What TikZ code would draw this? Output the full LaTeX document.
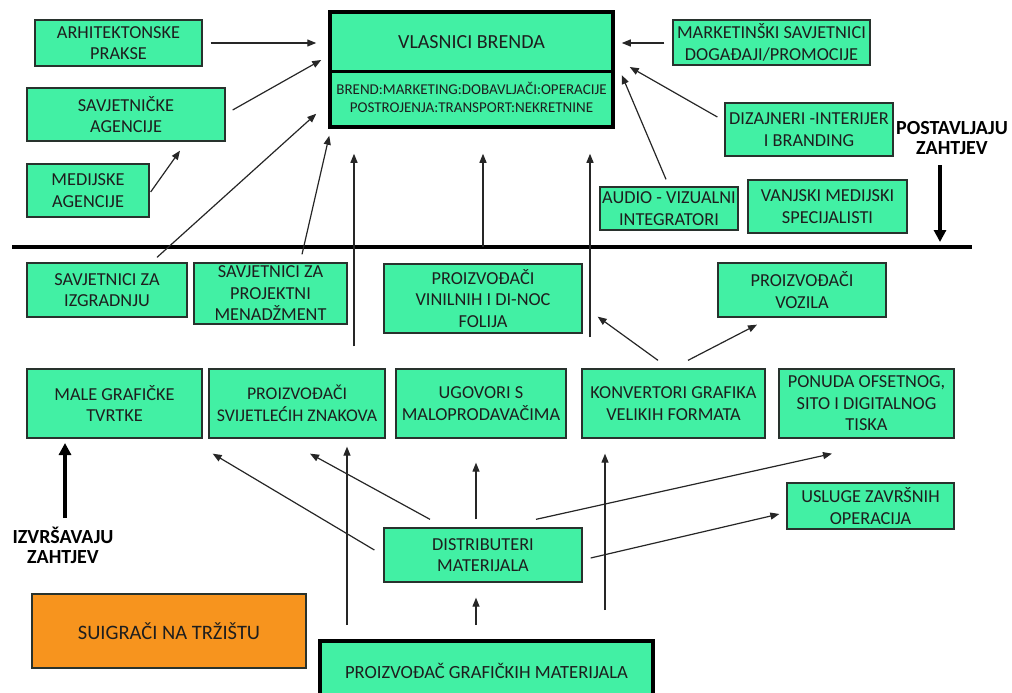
\documentclass[tikz,border=0pt]{standalone}
\usepackage{fontspec}
\setmainfont{Carlito}
\usetikzlibrary{arrows.meta,calc}
\definecolor{gfill}{RGB}{66,240,164}
\definecolor{ofill}{RGB}{247,148,30}
\definecolor{bord}{RGB}{40,50,45}
\definecolor{txt}{RGB}{30,30,30}
\begin{document}
\begin{tikzpicture}[x=1pt,y=-1pt,
 gbox/.style={draw=bord, line width=1.3pt, fill=gfill, inner sep=0pt, align=center, font=\fontsize{18.3}{21.5}\selectfont, text=txt},
 arr/.style={-{Triangle[length=9pt,width=7pt]}, line width=1.2pt, draw=black!85},
 tarr/.style={-{Triangle[length=12pt,width=12pt]}, line width=3.5pt},
 lbl/.style={font=\bfseries\fontsize{20}{20}\selectfont, align=center, inner sep=0pt}]
\useasboundingbox (0,0) rectangle (1012,693);

% top region
\node[gbox, minimum width=167pt, minimum height=46pt] (arh) at (118.5,43) {ARHITEKTONSKE\\PRAKSE};
\node[gbox, minimum width=198pt, minimum height=53pt] (sav) at (126,114.5) {SAVJETNIČKE\\AGENCIJE};
\node[gbox, minimum width=122pt, minimum height=53pt] (med) at (88,190.5) {MEDIJSKE\\AGENCIJE};
\node[gbox, line width=3.5pt, draw=black, minimum width=283pt, minimum height=115pt] (vb) at (471.5,69.5) {};
\draw[line width=3pt] ($(vb.west)+(0,2.5)$) -- ($(vb.east)+(0,2.5)$);
\node[font=\fontsize{20}{24}\selectfont, text=txt] (vbt) at (471.5,42) {VLASNICI BRENDA};
\node[font=\fontsize{15}{18}\selectfont, align=center, text=txt, inner sep=0pt] (vbs) at (471.5,97) {BREND:MARKETING:DOBAVLJAČI:OPERACIJE\\POSTROJENJA:TRANSPORT:NEKRETNINE};
\node[gbox, minimum width=197pt, minimum height=45pt] (mark) at (771.5,42.5) {MARKETINŠKI SAVJETNICI\\DOGAĐAJI/PROMOCIJE};
\node[gbox, minimum width=168pt, minimum height=53pt] (diz) at (809,129.5) {DIZAJNERI -INTERIJER\\I BRANDING};
\node[gbox, minimum width=138pt, minimum height=43pt] (audio) at (669,208.5) {AUDIO - VIZUALNI\\INTEGRATORI};
\node[gbox, minimum width=159pt, minimum height=53pt] (vanj) at (827.5,206.5) {VANJSKI MEDIJSKI\\SPECIJALISTI};
\node[lbl] (post) at (952,138) {POSTAVLJAJU\\ZAHTJEV};

% divider line
\coordinate (hl1) at (12,247);
\coordinate (hl2) at (972,247);
\draw[line width=4pt] (hl1) -- (hl2);

% middle rows
\node[gbox, minimum width=160pt, minimum height=54pt] (izg) at (107,290) {SAVJETNICI ZA\\IZGRADNJU};
\node[gbox, minimum width=153pt, minimum height=61pt] (proj) at (270.5,293.5) {SAVJETNICI ZA\\PROJEKTNI\\MENADŽMENT};
\node[gbox, minimum width=198pt, minimum height=69pt] (vin) at (483,298.5) {PROIZVOĐAČI\\VINILNIH I DI-NOC\\FOLIJA};
\node[gbox, minimum width=168pt, minimum height=54pt] (voz) at (802,290) {PROIZVOĐAČI\\VOZILA};

\node[gbox, minimum width=175pt, minimum height=69pt] (male) at (114.5,403.5) {MALE GRAFIČKE\\TVRTKE};
\node[gbox, minimum width=176pt, minimum height=69pt, font=\fontsize{17.8}{21.5}\selectfont] (svj) at (297,403.5) {PROIZVOĐAČI\\SVIJETLEĆIH ZNAKOVA};
\node[gbox, minimum width=170pt, minimum height=69pt] (ugov) at (481,403.5) {UGOVORI S\\MALOPRODAVAČIMA};
\node[gbox, minimum width=183pt, minimum height=69pt] (konv) at (673.5,403.5) {KONVERTORI GRAFIKA\\VELIKIH FORMATA};
\node[gbox, minimum width=175pt, minimum height=69pt] (pon) at (866.5,403.5) {PONUDA OFSETNOG,\\SITO I DIGITALNOG\\TISKA};

% bottom
\node[gbox, minimum width=198pt, minimum height=54pt] (dist) at (483,555) {DISTRIBUTERI\\MATERIJALA};
\node[gbox, minimum width=167pt, minimum height=46pt] (usl) at (870.5,506) {USLUGE ZAVRŠNIH\\OPERACIJA};
\node[gbox, fill=ofill, minimum width=274pt, minimum height=74pt, font=\fontsize{20.5}{24}\selectfont] (suig) at (169,631) {SUIGRAČI NA TRŽIŠTU};
\node[gbox, draw=black, line width=4pt, minimum width=333pt, minimum height=59pt, font=\fontsize{18.6}{22}\selectfont] (pgm) at (486.5,670.5) {PROIZVOĐAČ GRAFIČKIH MATERIJALA};
\node[lbl] (izv) at (63,545) {IZVRŠAVAJU\\ZAHTJEV};

% thick arrows
\coordinate (pA) at (940,165);
\coordinate (pB) at (940,242);
\draw[tarr] (pA) -- (pB);
\coordinate (iA) at (65,518);
\coordinate (iB) at (65,443);
\draw[tarr] (iA) -- (iB);

% arrows to VLASNICI BRENDA
\draw[arr] ($(arh.east)+(8,0)$) -- ($(vb.west)+(-12,-26.5)$);
\draw[arr] ($(sav.east)+(7,-4.5)$) -- ($(vb.west)+(-7,-9.5)$);
\draw[arr] ($(med.east)+(1,1.5)$) -- ($(sav.south)+(54,9)$);
\draw[arr] ($(izg.north)+(50,-5)$) -- ($(vb.south west)+(-12,-15)$);
\draw[arr] ($(proj.north)+(31.5,-8)$) -- ($(vb.south west)+(1,7)$);
\draw[arr] ($(svj.north)+(57,-22)$) -- ($(vb.south)+(-117.5,25)$);
\draw[arr] ($(vin.north)+(0,-16)$) -- ($(vb.south)+(11.5,25)$);
\draw[arr] ($(konv.north)+(-83.5,-31)$) -- ($(vb.south)+(118.5,25)$);
\draw[arr] ($(mark.west)+(-8,0.5)$) -- ($(vb.east)+(7,-26.5)$);
\draw[arr] ($(diz.west)+(-7,-12.5)$) -- ($(vb.east)+(15,-2.5)$);
\draw[arr] ($(audio.north)+(-3,-7)$) -- ($(vb.east)+(7,5.5)$);

% konvertori arrows
\draw[arr] ($(konv.north)+(-15.5,-8)$) -- ($(vin.south east)+(15,-17)$);
\draw[arr] ($(konv.north)+(14.5,-8)$) -- ($(voz.south)+(-45,7)$);

% distributeri arrows
\draw[arr] ($(dist.north)+(-53,-8)$) -- ($(svj.south)+(13,15)$);
\draw[arr] ($(dist.west)+(-9,-5)$) -- ($(male.south east)+(10,15)$);
\draw[arr] ($(dist.north)+(-7,-8)$) -- ($(ugov.south)+(-5,24)$);
\draw[arr] ($(dist.north)+(53,-8)$) -- ($(pon.south)+(-34.5,15)$);
\draw[arr] ($(dist.east)+(8,3)$) -- ($(usl.west)+(-7,8)$);

% from proizvodac
\draw[arr] ($(pgm.north)+(-10.5,-14)$) -- ($(dist.south)+(-7,15)$);
\draw[arr] ($(pgm.north)+(-139.5,-14)$) -- ($(svj.south)+(50,8)$);
\draw[arr] ($(pgm.north)+(118.5,-29)$) -- ($(konv.south)+(-68.5,15)$);
\end{tikzpicture}
\end{document}
